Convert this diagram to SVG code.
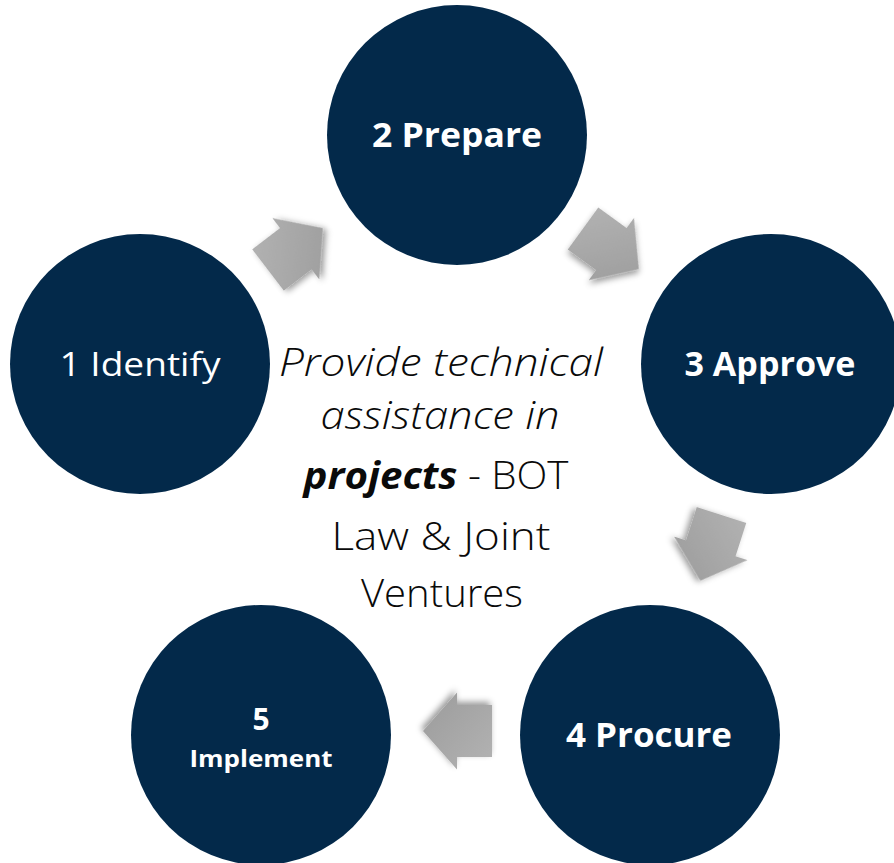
<svg xmlns="http://www.w3.org/2000/svg" xmlns:xlink="http://www.w3.org/1999/xlink" width="894" height="863" viewBox="0 0 894 863">
  <style>
    .node { fill: #03294a; }
    .lbl { fill: #ffffff; font-family: "Open Sans", "Noto Sans", "Liberation Sans", sans-serif; text-anchor: middle; }
    .b { font-weight: 700; }
    .l { font-weight: 400; }
    .ctr { fill: #0a0a0a; font-family: "Open Sans", "Noto Sans", "Liberation Sans", sans-serif; font-weight: 300; font-size: 38px; text-anchor: middle; }
    .arrow { fill: url(#ag); filter: url(#sh); }
  </style>
  <defs>
    <linearGradient id="ag" x1="0" y1="0" x2="1" y2="1">
      <stop offset="0" stop-color="#b3b3b3"/>
      <stop offset="1" stop-color="#9b9b9b"/>
    </linearGradient>
    <filter id="sh" x="-30%" y="-30%" width="160%" height="160%">
      <feDropShadow dx="2" dy="3" stdDeviation="3" flood-color="#000" flood-opacity="0.4"/>
    </filter>
    <polygon id="arw" points="0,-26 35,-26 35,-38.5 69,0 35,38.5 35,26 0,26"/>
  </defs>

  <g id="connectors">
    <use xlink:href="#arw" class="arrow" transform="translate(268,270) rotate(-37.4)"/>
    <use xlink:href="#arw" class="arrow" transform="translate(583,228.5) rotate(36)"/>
    <use xlink:href="#arw" class="arrow" transform="translate(721.5,515) rotate(107.8)"/>
    <use xlink:href="#arw" class="arrow" transform="translate(492,731) rotate(180)"/>
  </g>

  <g id="node1">
    <circle class="node" cx="140" cy="364" r="130"/>
    <text class="lbl l" x="140" y="376" font-size="33" textLength="161" lengthAdjust="spacingAndGlyphs">1 Identify</text>
  </g>
  <g id="node2">
    <circle class="node" cx="457" cy="135" r="130"/>
    <text class="lbl b" x="457" y="147" font-size="34" textLength="170" lengthAdjust="spacingAndGlyphs">2 Prepare</text>
  </g>
  <g id="node3">
    <circle class="node" cx="771" cy="364" r="130"/>
    <text class="lbl b" x="770" y="376" font-size="34" textLength="171" lengthAdjust="spacingAndGlyphs">3 Approve</text>
  </g>
  <g id="node4">
    <circle class="node" cx="650" cy="735" r="130"/>
    <text class="lbl b" x="649" y="747" font-size="34" textLength="166" lengthAdjust="spacingAndGlyphs">4 Procure</text>
  </g>
  <g id="node5">
    <circle class="node" cx="261" cy="735" r="130"/>
    <text class="lbl b" x="261" y="730" font-size="30">5</text>
    <text class="lbl b" x="261" y="767" font-size="24" textLength="143" lengthAdjust="spacingAndGlyphs">Implement</text>
  </g>

  <g id="center-label">
    <text class="ctr" x="441" y="376" font-style="italic" textLength="324" lengthAdjust="spacingAndGlyphs">Provide technical</text>
    <text class="ctr" x="440" y="429" font-style="italic" textLength="239" lengthAdjust="spacingAndGlyphs">assistance in</text>
    <text class="ctr" x="436" y="489" textLength="265" lengthAdjust="spacingAndGlyphs"><tspan font-style="italic" font-weight="700">projects</tspan> - BOT</text>
    <text class="ctr" x="441" y="550" textLength="219" lengthAdjust="spacingAndGlyphs">Law &amp; Joint</text>
    <text class="ctr" x="442" y="607" textLength="162" lengthAdjust="spacingAndGlyphs">Ventures</text>
  </g>
</svg>
